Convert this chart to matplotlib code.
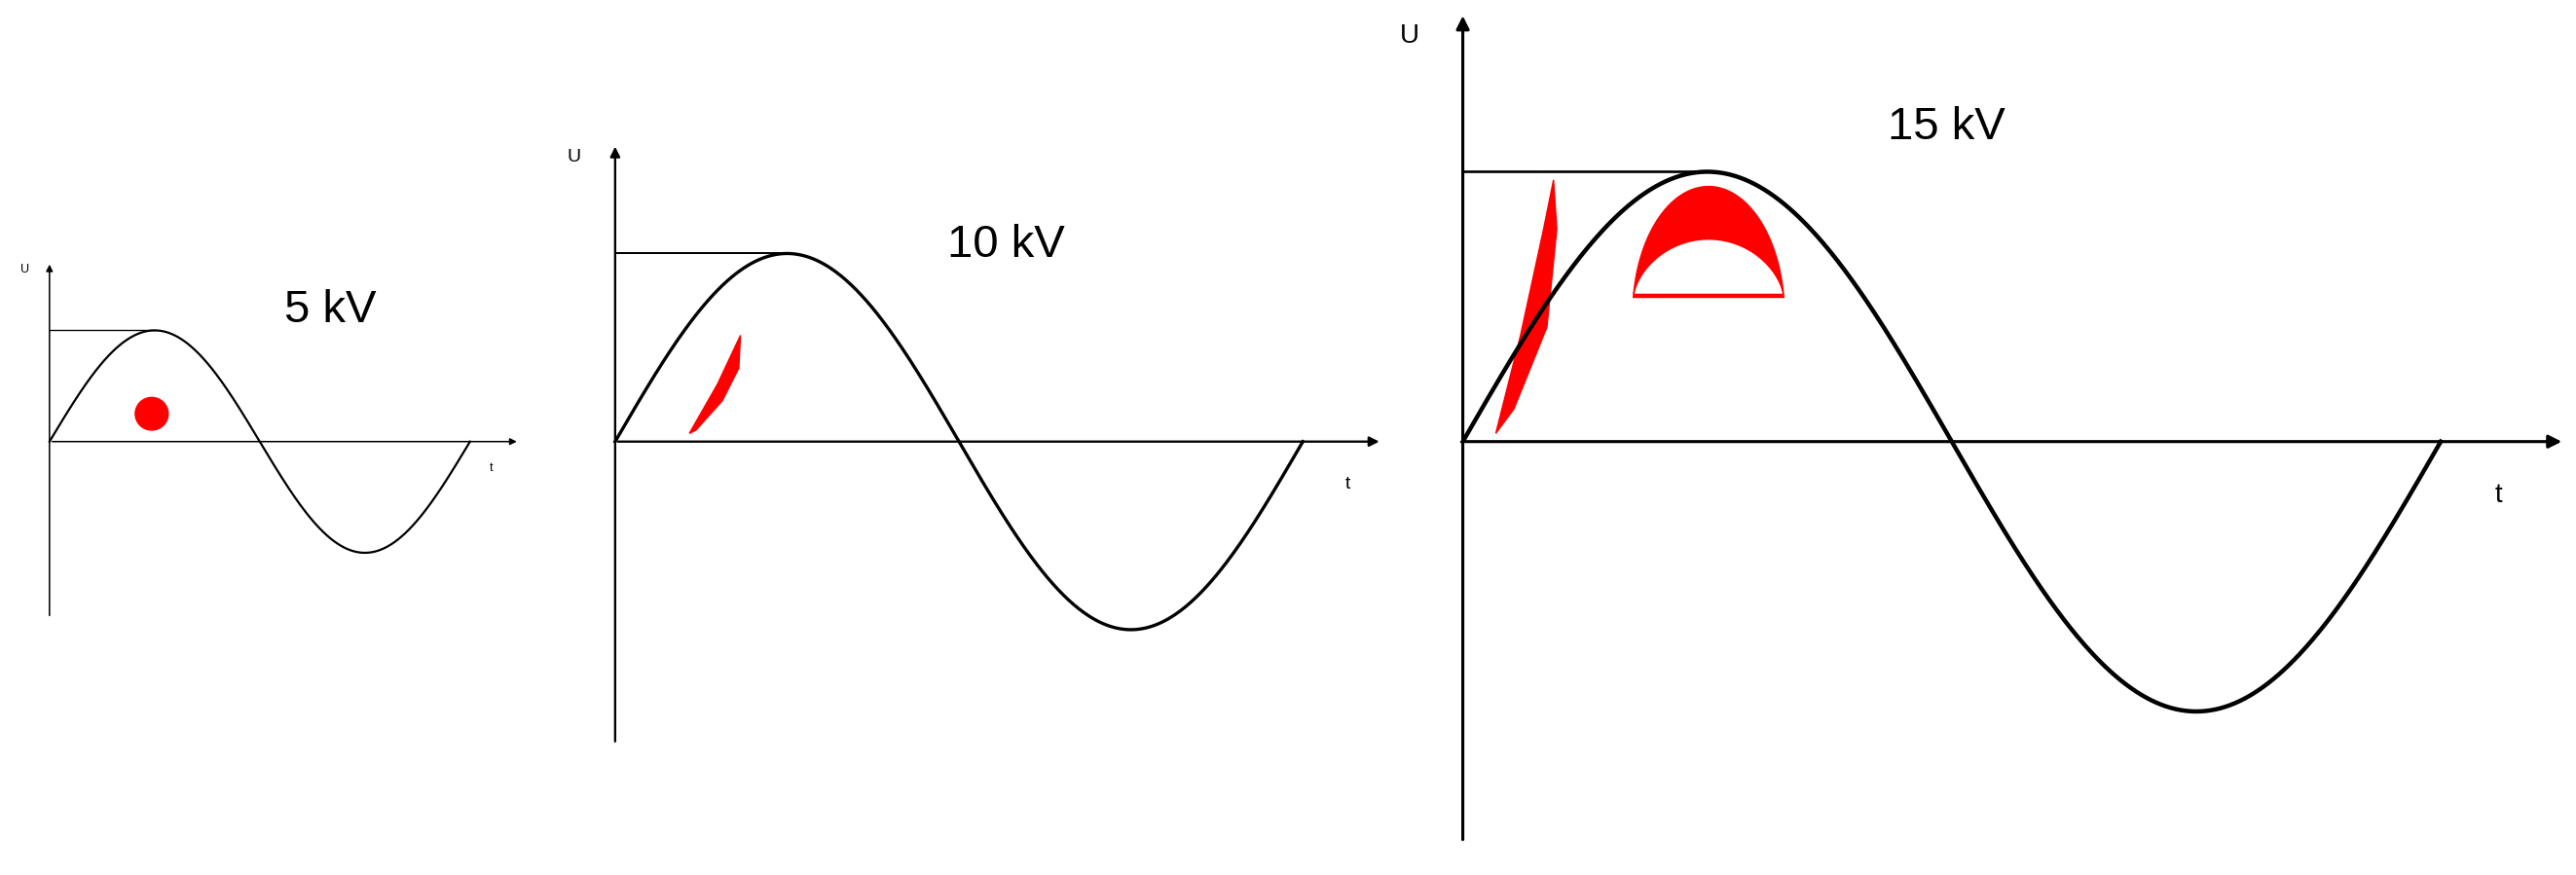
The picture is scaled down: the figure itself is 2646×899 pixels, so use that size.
import numpy as np
import matplotlib.pyplot as plt
from matplotlib.patches import Polygon, Circle

# panel geometry in reference pixel units (1562 x 535 canvas)
labels = ['5 kV', '10 kV', '15 kV']
origin_x = [30, 373, 887]
origin_y = 270
amplitude = [68, 115, 165]
period = [255, 417, 593]
axis_top = [160, 88, 8]
axis_bottom = [378, 455, 515]
axis_right = [315, 838, 1555]
line_w = [1.6, 2.4, 3.2]
label_pos = [(200, 190), (610, 150), (1180, 78)]
u_pos = [(15, 165), (348, 96), (855, 22)]
t_pos = [(298, 286), (817, 296), (1515, 303)]
u_size = [9, 14, 20]

fig = plt.figure(figsize=(26.46, 8.99), dpi=100)
ax = fig.add_axes([0, 0, 1, 1])
ax.set_xlim(0, 1562)
ax.set_ylim(535, 0)
ax.axis('off')

for i in range(3):
    x0, A, P, lw = origin_x[i], amplitude[i], period[i], line_w[i]
    xs = np.linspace(x0, x0 + P, 400)
    ax.plot(xs, origin_y - A * np.sin(2 * np.pi * (xs - x0) / P), color='black', lw=lw)
    # axes with arrows
    ax.annotate('', xy=(x0, axis_top[i]), xytext=(x0, axis_bottom[i]),
                arrowprops=dict(arrowstyle='-|>', color='black', lw=lw * 0.7, mutation_scale=10 + 5 * i))
    ax.annotate('', xy=(axis_right[i], origin_y), xytext=(x0, origin_y),
                arrowprops=dict(arrowstyle='-|>', color='black', lw=lw * 0.7, mutation_scale=10 + 5 * i))
    ax.plot([x0, x0 + P / 4], [origin_y - A] * 2, color='black', lw=lw * 0.6)
    ax.text(*label_pos[i], labels[i], fontsize=34, ha='center', va='center', family='Liberation Sans')
    ax.text(*u_pos[i], 'U', fontsize=u_size[i], ha='center', va='center', family='Liberation Sans')
    ax.text(*t_pos[i], 't', fontsize=u_size[i], ha='center', va='center', family='Liberation Sans')

# red discharge marks
ax.add_patch(Circle((92, 253), 10, color='red'))
ax.add_patch(Polygon([(418, 265), (435, 235), (449, 205), (448, 225), (438, 245), (422, 263)], color='red'))
ax.add_patch(Polygon([(907, 265), (922, 205), (936, 140), (942, 110), (944, 140), (938, 200), (918, 250)], color='red'))
th = np.linspace(0.04 * np.pi, 0.96 * np.pi, 60)
outer = np.c_[1036 + 46 * np.cos(th), 192 - 78 * np.sin(th)]
end_y = 192 - 78 * np.sin(0.04 * np.pi)
inner_x = outer[::-1, 0]
inner = np.c_[inner_x, end_y - 36 * (1 - ((inner_x - 1036) / 45.6) ** 2) ** 0.6]
ax.add_patch(Polygon(np.vstack([outer, inner]), color='red'))

fig.savefig('out.png', dpi=100)
